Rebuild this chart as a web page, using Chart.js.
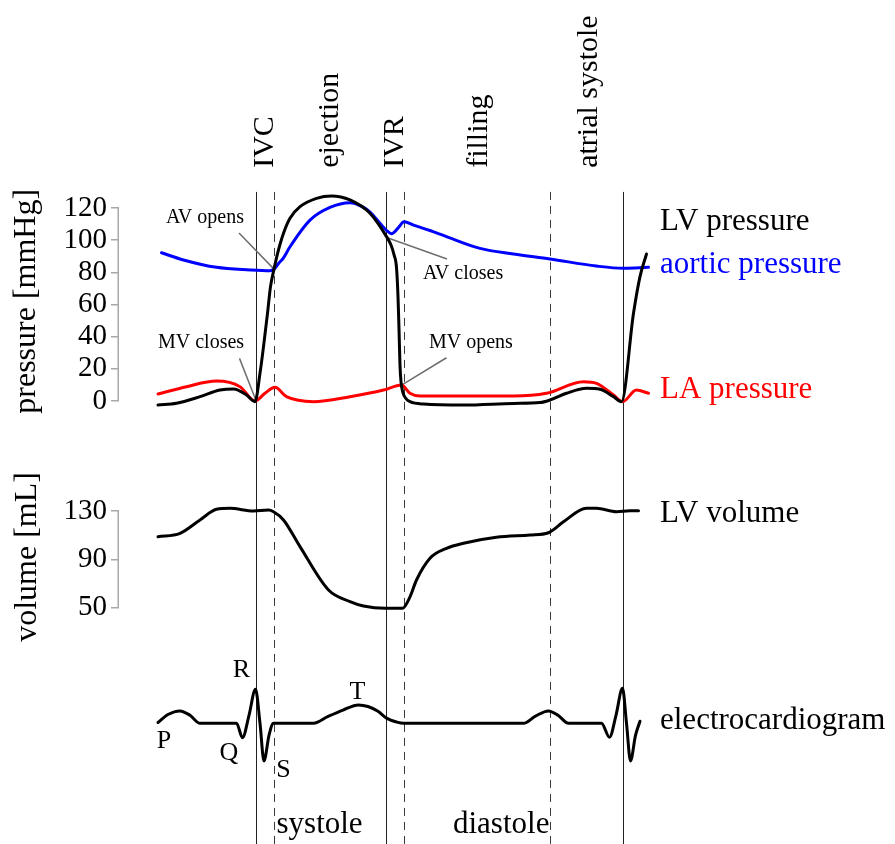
<!DOCTYPE html>
<html>
<head>
<meta charset="utf-8">
<title>Wiggers diagram</title>
<script src="https://cdn.jsdelivr.net/npm/chart.js@4.4.1/dist/chart.umd.min.js"></script>
<style>
  html, body { margin: 0; padding: 0; background: #fff; }
  #wrap { width: 895px; height: 844px; position: relative; }
</style>
</head>
<body>
<div id="wrap"><canvas id="wiggers"></canvas></div>
<script>
// time axis is in ms from the left end of the traces
const lvpTime = [0, 37, 84, 124, 151, 177, 194, 204, 211, 219, 225, 232, 241, 251, 264, 284, 317, 347, 384, 424, 457, 466, 472, 477, 480, 482, 484, 486, 490, 496, 504, 531, 611, 711, 764, 784, 817, 857, 884, 911, 927, 951, 964, 977];
const lvPressure = [-2.5, -1.4, 2.7, 6.8, 7.5, 3.7, -0.4, 17.2, 33.8, 54.5, 71.1, 82, 93.9, 104.3, 113.6, 120.8, 126, 127.5, 125, 116.7, 102.2, 97, 91, 83, 65, 45, 22, 12, 5, 1.5, -0.4, -1.9, -2.5, -1.5, -1, 0.6, 4.8, 7.9, 7.3, 2.7, -0.4, 54.5, 77.3, 91.4];

const aoTime = [7, 51, 117, 184, 224, 232, 241, 251, 264, 304, 344, 384, 411, 424, 444, 458, 467, 480, 492, 511, 544, 577, 644, 711, 784, 877, 931, 955, 981];
const aorticPressure = [92.2, 87.7, 83.1, 81.5, 81, 81.9, 85.5, 89, 95.9, 112.5, 120.4, 123.3, 120.4, 117.5, 110.5, 105.8, 104, 107.5, 111.5, 109.4, 106, 102.2, 94.9, 91.4, 88.3, 83.9, 82.5, 82.7, 83.1];

const laTime = [0, 57, 117, 164, 194, 214, 234, 257, 311, 384, 451, 487, 504, 524, 711, 777, 851, 877, 911, 929, 957, 981];
const laPressure = [4.4, 8.9, 12.4, 8.9, 0, 4.8, 8.5, 2.7, -0.4, 2.7, 6.8, 10, 4.8, 3.1, 3.1, 4.8, 12, 11, 3.7, -0.4, 6.8, 4.8];

const volTime = [0, 44, 84, 117, 144, 191, 221, 231, 251, 284, 341, 384, 411, 454, 489, 504, 517, 544, 577, 611, 677, 744, 781, 811, 857, 877, 917, 944, 961];
const lvVolume = [108.7, 111.5, 122.6, 131.4, 132.2, 130, 130.8, 129.4, 122.6, 100.5, 64.6, 55, 51.4, 49.5, 49.5, 59, 72.9, 90.9, 99.1, 103.3, 108.2, 110.1, 112, 121.1, 132.2, 132.2, 129.4, 130.2, 130.2];

const ecgTime = [0, 20, 44, 64, 84, 157, 169, 182, 195, 204, 212, 222, 231, 311, 340, 370, 401, 420, 440, 457, 478, 491, 731, 755, 781, 800, 821, 887, 903, 916, 929, 937, 945, 955, 964];
const ecgVoltage = [0.02, 0.22, 0.31, 0.2, 0, 0, -0.36, 0.2, 0.85, 0, -0.94, -0.3, 0, 0, 0.17, 0.33, 0.46, 0.42, 0.3, 0.13, 0.03, 0, 0, 0.18, 0.31, 0.2, 0, 0, -0.35, 0.2, 0.875, 0, -0.94, -0.3, 0.05];

// valve events: closings drawn solid, openings / atrial kick dashed
const eventNames = ['MV closes', 'AV opens', 'AV closes', 'MV opens', 'atrial systole', 'MV closes'];
const eventTimes = [195, 231, 456, 491, 784, 929];
const eventSolid = [true, false, true, false, false, true];

const pressureTicks = [0, 20, 40, 60, 80, 100, 120];
const volumeTicks = [50, 90, 130];

const SERIF = '"Liberation Serif", "DejaVu Serif", serif';

// text placement, in data units of the scale named by `axis`
const layout = {
  phases: [
    { text: 'IVC', t: 230 },
    { text: 'ejection', t: 360 },
    { text: 'IVR', t: 490 },
    { text: 'filling', t: 658 },
    { text: 'atrial systole', t: 878 }
  ],
  phaseStart: 145,
  series: [
    { text: 'LV pressure', axis: 'p', v: 106.3, color: '#000' },
    { text: 'aortic pressure', axis: 'p', v: 79.6, color: '#0000ff' },
    { text: 'LA pressure', axis: 'p', v: 1.9, color: '#ff0000' },
    { text: 'LV volume', axis: 'vol', v: 121.1, color: '#000' },
    { text: 'electrocardiogram', axis: 'ecg', v: -0.14, color: '#000' }
  ],
  seriesT: 1004,
  notes: [
    { text: 'AV opens', t: 16, v: 110.7, from: [162, 104.5], to: [232, 82] },
    { text: 'MV closes', t: 0, v: 33, from: [163, 26.5], to: [196, 0.3] },
    { text: 'AV closes', t: 530, v: 75.9, from: [578, 88.3], to: [456, 101.8] },
    { text: 'MV opens', t: 542, v: 33, from: [577, 26.9], to: [488, 10] }
  ],
  waves: [
    { text: 'P', t: 12, v: -0.625 },
    { text: 'Q', t: 142, v: -0.92 },
    { text: 'R', t: 167, v: 1.15 },
    { text: 'S', t: 251, v: -1.35 },
    { text: 'T', t: 399, v: 0.6 }
  ],
  cycle: [
    { text: 'systole', t: 237, v: -2.74 },
    { text: 'diastole', t: 590, v: -2.74 }
  ]
};

function series(label, times, values, axis, color) {
  return {
    label,
    yAxisID: axis,
    data: times.map((t, i) => ({ x: t, y: values[i] })),
    borderColor: color,
    borderWidth: 3,
    borderCapStyle: 'round',
    borderJoinStyle: 'round',
    pointRadius: 0,
    fill: false,
    cubicInterpolationMode: 'monotone'
  };
}

function text(ctx, str, x, y, size, color, align) {
  ctx.font = size + 'px ' + SERIF;
  ctx.fillStyle = color;
  ctx.textAlign = align || 'left';
  ctx.textBaseline = 'alphabetic';
  ctx.fillText(str, x, y);
}

function upright(ctx, str, x, y, size, align) {
  ctx.save();
  ctx.translate(x, y);
  ctx.rotate(-Math.PI / 2);
  text(ctx, str, 0, 0, size, '#000', align);
  ctx.restore();
}

const overlay = {
  id: 'overlay',
  // the volume axis takes no room in the layout so that it shares the
  // pressure axis column; widen its box afterwards so its labels aren't clipped
  afterLayout(chart) {
    const vol = chart.scales.vol;
    vol.left = 0;
    vol.width = vol.right;
  },
  beforeDatasetsDraw(chart) {
    const { ctx, chartArea, scales } = chart;
    const x = scales.x, p = scales.p, vol = scales.vol;
    ctx.save();

    // event lines
    const top = p.getPixelForValue(130);
    ctx.lineWidth = 1;
    eventTimes.forEach((t, i) => {
      const px = Math.round(x.getPixelForValue(t)) + 0.5;
      ctx.strokeStyle = eventSolid[i] ? '#222' : '#3a3a3a';
      ctx.setLineDash(eventSolid[i] ? [] : [8, 6]);
      ctx.beginPath();
      ctx.moveTo(px, top);
      ctx.lineTo(px, chartArea.bottom);
      ctx.stroke();
    });
    ctx.setLineDash([]);

    // axis brackets
    ctx.strokeStyle = '#a8a8a8';
    ctx.lineWidth = 1.5;
    const bx = chartArea.left - 0.75;
    [[p, pressureTicks], [vol, volumeTicks]].forEach(([s, ticks]) => {
      ctx.beginPath();
      ctx.moveTo(bx, s.getPixelForValue(Math.max(...ticks)));
      ctx.lineTo(bx, s.getPixelForValue(Math.min(...ticks)));
      ctx.stroke();
    });

    // annotation leaders
    ctx.strokeStyle = '#6e6e6e';
    ctx.lineWidth = 1.5;
    layout.notes.forEach(n => {
      ctx.beginPath();
      ctx.moveTo(x.getPixelForValue(n.from[0]), p.getPixelForValue(n.from[1]));
      ctx.lineTo(x.getPixelForValue(n.to[0]), p.getPixelForValue(n.to[1]));
      ctx.stroke();
    });
    ctx.restore();
  },
  afterDraw(chart) {
    const { ctx, scales } = chart;
    const x = scales.x, p = scales.p, vol = scales.vol, ecg = scales.ecg;
    ctx.save();

    // phase names above the traces
    const py = p.getPixelForValue(layout.phaseStart);
    layout.phases.forEach(ph => upright(ctx, ph.text, x.getPixelForValue(ph.t), py, 30, 'left'));

    // axis titles
    upright(ctx, 'pressure [mmHg]', 35, p.getPixelForValue(62), 32, 'center');
    upright(ctx, 'volume [mL]', 36, vol.getPixelForValue(92), 32, 'center');

    // series names on the right
    const sx = x.getPixelForValue(layout.seriesT);
    layout.series.forEach(s => text(ctx, s.text, sx, scales[s.axis].getPixelForValue(s.v), 31, s.color));

    layout.notes.forEach(n => text(ctx, n.text, x.getPixelForValue(n.t), p.getPixelForValue(n.v), 20, '#000'));
    layout.waves.forEach(w => text(ctx, w.text, x.getPixelForValue(w.t), ecg.getPixelForValue(w.v), 26, '#000', 'center'));
    layout.cycle.forEach(c => text(ctx, c.text, x.getPixelForValue(c.t), ecg.getPixelForValue(c.v), 31, '#000'));
    ctx.restore();
  }
};

const tickFont = { family: SERIF, size: 29 };

new Chart(document.getElementById('wiggers'), {
  type: 'line',
  data: {
    datasets: [
      series('LV pressure', lvpTime, lvPressure, 'p', '#000'),
      series('aortic pressure', aoTime, aorticPressure, 'p', '#0000ff'),
      series('LA pressure', laTime, laPressure, 'p', '#ff0000'),
      series('LV volume', volTime, lvVolume, 'vol', '#000'),
      series('electrocardiogram', ecgTime, ecgVoltage, 'ecg', '#000')
    ]
  },
  options: {
    responsive: true,
    maintainAspectRatio: false,
    animation: false,
    layout: { padding: 0, autoPadding: false },
    plugins: { legend: { display: false }, tooltip: { enabled: false } },
    scales: {
      x: { type: 'linear', display: false, min: -78, max: 1474 },
      p: {
        type: 'linear', position: 'left', weight: 2,
        min: -275.44, max: 249.33,
        afterBuildTicks: s => { s.ticks = pressureTicks.map(v => ({ value: v })); },
        afterFit: s => { s.width = 119; s.paddingTop = 0; s.paddingBottom = 0; },
        border: { display: false },
        grid: { drawOnChartArea: false, drawTicks: true, tickLength: 8, color: '#a8a8a8', lineWidth: 1.5 },
        ticks: { autoSkip: false, color: '#000', padding: 4, font: tickFont }
      },
      vol: {
        type: 'linear', position: 'left', weight: 1,
        min: -145.6, max: 552.9,
        afterBuildTicks: s => { s.ticks = volumeTicks.map(v => ({ value: v })); },
        afterFit: s => { s.width = 0; s.paddingTop = 0; s.paddingBottom = 0; },
        border: { display: false },
        grid: { drawOnChartArea: false, drawTicks: true, tickLength: 8, color: '#a8a8a8', lineWidth: 1.5 },
        ticks: { autoSkip: false, color: '#000', padding: 4, font: tickFont }
      },
      ecg: { type: 'linear', display: false, min: -3.0175, max: 18.08 }
    }
  },
  plugins: [overlay]
});
</script>
</body>
</html>
